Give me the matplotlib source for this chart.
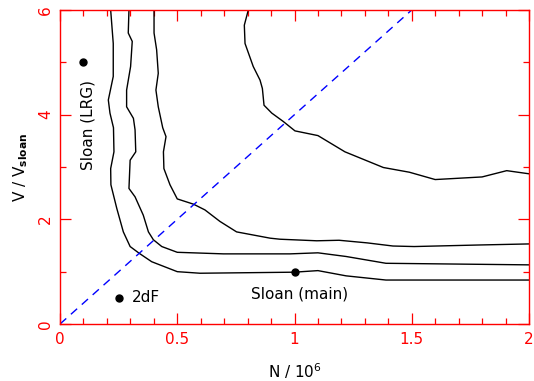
import matplotlib
matplotlib.use("Agg")
import matplotlib.pyplot as plt
from matplotlib.ticker import MultipleLocator

# contour curves: (N / 1e6, V / V_sloan)
curve_a_x = [0.216, 0.227, 0.227, 0.206, 0.213, 0.228, 0.230, 0.216, 0.217, 0.242, 0.270, 0.299,
             0.338, 0.391, 0.500, 0.597, 0.796, 0.998, 1.10, 1.22, 1.39, 2.0]
curve_a_y = [6.0, 5.36, 4.73, 4.28, 4.03, 3.75, 3.29, 2.97, 2.66, 2.21, 1.76, 1.48,
             1.35, 1.19, 1.0, 0.97, 0.98, 0.99, 1.02, 0.92, 0.84, 0.84]

curve_b_x = [0.294, 0.291, 0.308, 0.301, 0.284, 0.284, 0.313, 0.320, 0.323, 0.299, 0.294, 0.320,
             0.355, 0.377, 0.398, 0.434, 0.500, 0.697, 0.981, 1.10, 1.22, 1.39, 2.0]
curve_b_y = [6.0, 5.56, 5.40, 4.92, 4.47, 4.15, 3.93, 3.71, 3.29, 3.13, 2.59, 2.43,
             2.08, 1.76, 1.61, 1.48, 1.37, 1.34, 1.34, 1.36, 1.29, 1.16, 1.13]

curve_c_x = [0.401, 0.401, 0.412, 0.419, 0.409, 0.419, 0.438, 0.452, 0.441, 0.443, 0.469, 0.500,
             0.569, 0.618, 0.682, 0.753, 0.896, 0.938, 1.095, 1.19, 1.31, 1.42, 1.51, 1.79, 2.0]
curve_c_y = [6.0, 5.56, 5.24, 4.79, 4.47, 4.15, 3.75, 3.58, 3.29, 2.97, 2.66, 2.39,
             2.29, 2.18, 1.96, 1.76, 1.64, 1.62, 1.59, 1.60, 1.55, 1.49, 1.48, 1.51, 1.53]

curve_d_x = [0.803, 0.786, 0.789, 0.824, 0.853, 0.863, 0.870, 0.903, 0.952, 1.002, 1.10, 1.215,
             1.379, 1.49, 1.60, 1.80, 1.905, 2.0]
curve_d_y = [6.0, 5.71, 5.36, 4.92, 4.66, 4.50, 4.18, 4.03, 3.87, 3.69, 3.60, 3.29,
             2.99, 2.90, 2.76, 2.81, 2.93, 2.87]

# surveys
survey_names = ["Sloan (LRG)", "2dF", "Sloan (main)"]
survey_n = [0.1, 0.25, 1.0]
survey_v = [5.0, 0.5, 1.0]

# V proportional to N line
diag_x = [0.0, 1.5]
diag_y = [0.0, 6.0]

red = "#ff0000"

fig = plt.figure(figsize=(5.34, 3.81), dpi=100)
ax = fig.add_axes([0.1124, 0.1496, 0.8782, 0.8242])

for cx, cy in [(curve_a_x, curve_a_y), (curve_b_x, curve_b_y),
               (curve_c_x, curve_c_y), (curve_d_x, curve_d_y)]:
    ax.plot(cx, cy, color="black", lw=1.0)

ax.plot(diag_x, diag_y, color="#0000ff", lw=1.0, dashes=(6, 4.5))
ax.plot(survey_n, survey_v, "o", color="black", ms=5, ls="none")

ax.text(survey_n[0] + 0.018, 3.81, survey_names[0], rotation=90,
        ha="center", va="center", fontsize=11)
ax.text(survey_n[1] + 0.055, survey_v[1], survey_names[1],
        ha="left", va="center", fontsize=11)
ax.text(1.02, 0.57, survey_names[2], ha="center", va="center", fontsize=11)

ax.set_xlim(0, 2)
ax.set_ylim(0, 6)
ax.xaxis.set_major_locator(MultipleLocator(0.5))
ax.xaxis.set_minor_locator(MultipleLocator(0.1))
ax.yaxis.set_major_locator(MultipleLocator(2))
ax.yaxis.set_minor_locator(MultipleLocator(1))
ax.set_xticks([0, 0.5, 1, 1.5, 2])
ax.set_xticklabels(["0", "0.5", "1", "1.5", "2"])
ax.set_yticks([0, 2, 4, 6])
ax.set_yticklabels(["0", "2", "4", "6"])

for s in ax.spines.values():
    s.set_color(red)
    s.set_linewidth(1.0)
ax.tick_params(which="both", direction="in", top=True, right=True, color=red,
               labelcolor=red, labelsize=11, width=0.9)
ax.tick_params(which="major", length=8)
ax.tick_params(which="minor", length=4)
ax.tick_params(axis="x", pad=6)
ax.tick_params(axis="y", pad=5)
for lab in ax.get_yticklabels():
    lab.set_rotation(90)
    lab.set_va("center")

ax.set_xlabel(r"N / 10$^{6}$", fontsize=11, labelpad=10)
ax.set_ylabel(r"V / V$_{\mathbf{sloan}}$", fontsize=11, labelpad=6)

fig.savefig("out.png", dpi=100)
